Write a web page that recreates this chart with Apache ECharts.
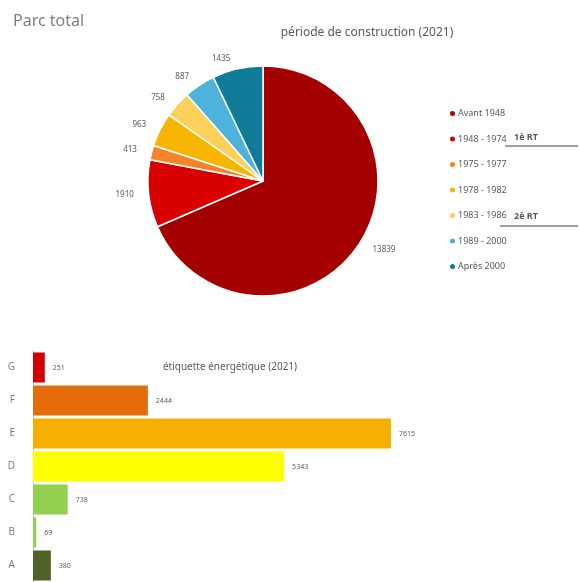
<!DOCTYPE html>
<html>
<head>
<meta charset="utf-8">
<script src="https://cdn.jsdelivr.net/npm/echarts@6/dist/echarts.min.js"></script>
<style>
  html, body { margin: 0; padding: 0; background: #fff; }
  #main { width: 579px; height: 582px; }
</style>
</head>
<body>
<div id="main"></div>
<script>
// période de construction
const periods = ["Avant 1948", "1948 - 1974", "1975 - 1977", "1978 - 1982", "1983 - 1986", "1989 - 2000", "Après 2000"];
const periodValues = [13839, 1910, 413, 963, 758, 887, 1435];
const periodColors = ["#a50000", "#d90000", "#f4842a", "#f7b500", "#fbd15b", "#4db3dc", "#117c99"];

// étiquette énergétique
const labels = ["G", "F", "E", "D", "C", "B", "A"];
const labelValues = [251, 2444, 7615, 5343, 738, 69, 380];
const labelColors = ["#d40000", "#e46c0a", "#f6ae00", "#ffff00", "#92d050", "#92d050", "#4f6228"];

const chart = echarts.init(document.getElementById("main"));

const textFont = "Noto Sans";
const gray = "#595959";

chart.setOption({
  animation: false,
  title: [
    { text: "Parc total", left: 8, top: 8,
      textStyle: { fontFamily: textFont, fontSize: 16, fontWeight: "normal", color: "#7f7f7f" } },
    { text: "période de construction (2021)", left: 362, top: 22, textAlign: "center",
      textStyle: { fontFamily: textFont, fontSize: 12, fontWeight: "normal", color: gray } },
    { text: "étiquette énergétique (2021)", left: 225, top: 357, textAlign: "center",
      textStyle: { fontFamily: textFont, fontSize: 10, fontWeight: "normal", color: gray } }
  ],
  legend: {
    orient: "vertical",
    left: 443,
    top: 104,
    itemWidth: 7,
    itemHeight: 7,
    itemGap: 16.5,
    icon: "circle",
    textStyle: { fontFamily: textFont, fontSize: 9, color: gray, padding: [0, 0, 0, -3] },
    data: periods
  },
  grid: { left: 33, top: 351, height: 231, right: 123, containLabel: false },
  xAxis: { type: "value", min: 0, max: 9000, show: false },
  yAxis: {
    type: "category",
    data: labels,
    inverse: true,
    axisLine: { lineStyle: { color: "#bfbfbf" } },
    axisTick: { show: false },
    axisLabel: { fontFamily: textFont, fontSize: 10, color: "#7f7f7f", margin: 18 }
  },
  graphic: [
    { type: "text", left: 514, top: 133,
      style: { text: "1è RT", fontFamily: textFont, fontSize: 9, fontWeight: "bold", fill: gray } },
    { type: "line", shape: { x1: 505, y1: 146, x2: 578, y2: 146 },
      style: { stroke: "#404040", lineWidth: 1 } },
    { type: "text", left: 514, top: 212,
      style: { text: "2è RT", fontFamily: textFont, fontSize: 9, fontWeight: "bold", fill: gray } },
    { type: "line", shape: { x1: 500, y1: 226, x2: 578, y2: 226 },
      style: { stroke: "#404040", lineWidth: 1 } }
  ],
  series: [
    {
      type: "pie",
      center: [263, 181],
      radius: 115,
      startAngle: 90,
      clockwise: true,
      label: { show: true, position: "outside", formatter: "{c}", fontFamily: textFont, fontSize: 8, color: gray },
      labelLine: { show: false, length: 10, length2: 0 },
      itemStyle: { borderColor: "#fff", borderWidth: 1.5 },
      data: periods.map((name, i) => ({
        name: name,
        value: periodValues[i],
        itemStyle: { color: periodColors[i] }
      }))
    },
    {
      type: "bar",
      barCategoryGap: "9%",
      label: { show: true, position: "right", distance: 8, fontFamily: textFont, fontSize: 7, color: gray },
      data: labelValues.map((v, i) => ({ value: v, itemStyle: { color: labelColors[i] } }))
    }
  ]
});
</script>
</body>
</html>
